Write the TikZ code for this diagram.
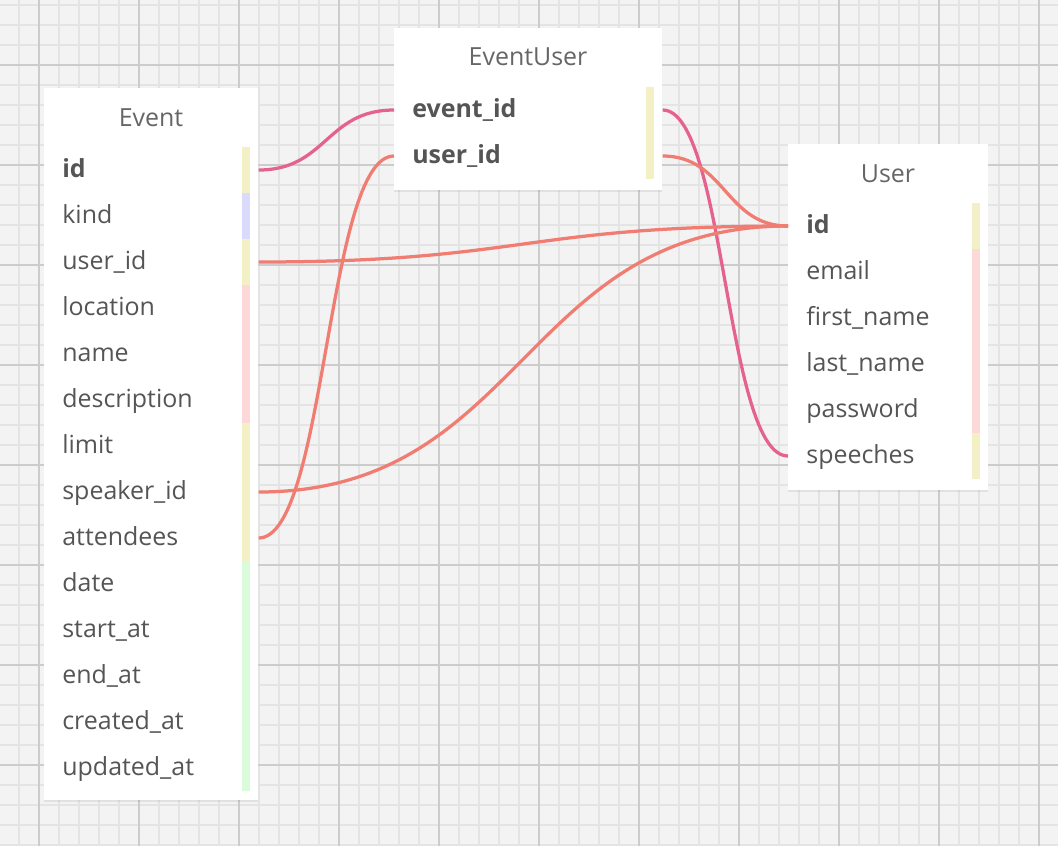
\documentclass[tikz,border=0pt]{standalone}
\usepackage{fontspec}
\setmainfont{Open Sans}
\usetikzlibrary{calc,shadows}

\definecolor{gridbg}{RGB}{243,243,243}
\definecolor{gridminor}{RGB}{228,228,228}
\definecolor{gridmajor}{RGB}{204,204,204}
\definecolor{txt}{RGB}{85,85,85}
\definecolor{relpink}{RGB}{230,98,142}
\definecolor{relsalmon}{RGB}{240,124,114}
\definecolor{baryellow}{RGB}{242,240,196}
\definecolor{barblue}{RGB}{218,218,250}
\definecolor{barpink}{RGB}{252,216,216}
\definecolor{bargreen}{RGB}{218,252,218}

\tikzset{
	table/.style={fill=white, inner sep=0pt,
		drop shadow={opacity=0.15, shadow xshift=0pt, shadow yshift=-1pt}},
	title/.style={font=\fontsize{14.2}{17}\selectfont, text=txt!90},
	field/.style={anchor=west, inner xsep=0.36cm, inner ysep=0pt,
		minimum height=0.92cm, text width=#1, align=left,
		text height=12pt, text depth=3pt,
		font=\fontsize{14.2}{17}\selectfont, text=txt},
	key/.style={field=#1, font=\fontsize{14.2}{17}\selectfont\bfseries},
	rel/.style={line width=0.065cm, to path={let \p1=(\tikztostart), \p2=(\tikztotarget) in
		.. controls ({(\x1+\x2)/2},\y1) and ({(\x1+\x2)/2},\y2) .. (\tikztotarget)}}
}

\begin{document}
\begin{tikzpicture}[x=0.02cm, y=-0.02cm]
			% Grid
			\useasboundingbox (0,0) rectangle (1058,846);
			\fill[gridbg] (0,0) rectangle (1058,846);
			\foreach \x in {19,39,...,1039}
				\draw[gridminor, line width=1pt] (\x,0) -- (\x,846);
			\foreach \y in {5,25,...,845}
				\draw[gridminor, line width=1pt] (0,\y) -- (1058,\y);
			\foreach \x in {39,139,...,1039}
				\draw[gridmajor, line width=1.1pt] (\x,0) -- (\x,846);
			\foreach \y in {65,165,...,765}
				\draw[gridmajor, line width=1.1pt] (0,\y) -- (1058,\y);

			% Tables
			\node[table, minimum width=4.28cm, minimum height=14.24cm] (event) at (151,444) {};
			\node[table, minimum width=5.36cm, minimum height=3.24cm] (eventuser) at (528,109) {};
			\node[table, minimum width=4cm, minimum height=6.92cm] (user) at (888,317) {};

			% Titles
			\node[title] (ev-title) at (151,118) {Event};
			\node[title] (eu-title) at (528,57) {EventUser};
			\node[title] (us-title) at (888,174) {User};

			% Event fields
			\node[key=3.56cm] (ev-id) at (44,170) {id};
			\node[field=3.56cm] (ev-kind) at (44,216) {kind};
			\node[field=3.56cm] (ev-user) at (44,262) {user\_id};
			\node[field=3.56cm] (ev-location) at (44,308) {location};
			\node[field=3.56cm] (ev-name) at (44,354) {name};
			\node[field=3.56cm] (ev-description) at (44,400) {description};
			\node[field=3.56cm] (ev-limit) at (44,446) {limit};
			\node[field=3.56cm] (ev-speaker) at (44,492) {speaker\_id};
			\node[field=3.56cm] (ev-attendees) at (44,538) {attendees};
			\node[field=3.56cm] (ev-date) at (44,584) {date};
			\node[field=3.56cm] (ev-start) at (44,630) {start\_at};
			\node[field=3.56cm] (ev-end) at (44,676) {end\_at};
			\node[field=3.56cm] (ev-created) at (44,722) {created\_at};
			\node[field=3.56cm] (ev-updated) at (44,768) {updated\_at};

			% EventUser fields
			\node[key=4.64cm] (eu-event) at (394,110) {event\_id};
			\node[key=4.64cm] (eu-user) at (394,156) {user\_id};

			% User fields
			\node[key=3.28cm] (us-id) at (788,226) {id};
			\node[field=3.28cm] (us-email) at (788,272) {email};
			\node[field=3.28cm] (us-first) at (788,318) {first\_name};
			\node[field=3.28cm] (us-last) at (788,364) {last\_name};
			\node[field=3.28cm] (us-password) at (788,410) {password};
			\node[field=3.28cm] (us-speeches) at (788,456) {speeches};

			% Colour bars
			\fill[baryellow] (242,147) rectangle (250,193);
			\fill[barblue] (242,193) rectangle (250,239);
			\fill[baryellow] (242,239) rectangle (250,285);
			\fill[barpink] (242,285) rectangle (250,423);
			\fill[baryellow] (242,423) rectangle (250,561);
			\fill[bargreen] (242,561) rectangle (250,791);
			\fill[baryellow] (646,87) rectangle (654,179);
			\fill[baryellow] (972,203) rectangle (980,249);
			\fill[barpink] (972,249) rectangle (980,433);
			\fill[baryellow] (972,433) rectangle (980,479);

			% Relations
			\draw[rel, relpink] (ev-id.east) to (eu-event.west);
			\draw[rel, relpink] (eu-event.east) to (us-speeches.west);
			\draw[rel, relsalmon] (eu-user.east) to (us-id.west);
			\draw[rel, relsalmon] (ev-user.east) to (us-id.west);
			\draw[rel, relsalmon] (ev-speaker.east) to (us-id.west);
			\draw[rel, relsalmon] (ev-attendees.east) to (eu-user.west);
\end{tikzpicture}
\end{document}
